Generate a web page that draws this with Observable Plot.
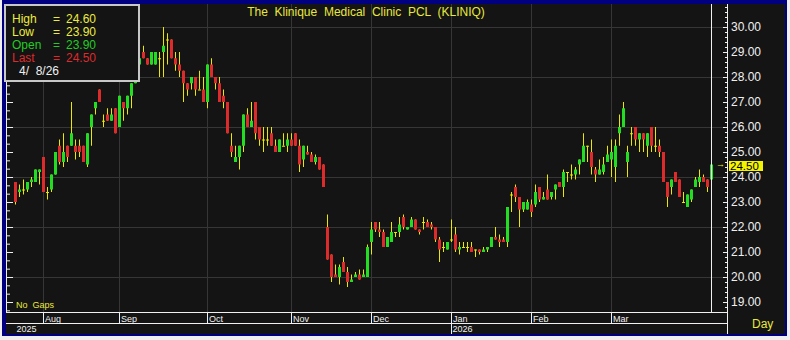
<!DOCTYPE html>
<html><head><meta charset="utf-8">
<script src="https://cdn.jsdelivr.net/npm/d3@7"></script>
<script src="https://cdn.jsdelivr.net/npm/@observablehq/plot@0.6"></script>
<style>
body{margin:0;background:#f0f0f0;}
#wrap{position:relative;width:790px;height:340px;overflow:hidden;background:#f0f0f0;font-family:Arial,"Liberation Sans",sans-serif;}
.abs{position:absolute;white-space:pre;}
</style></head><body>
<div id="wrap">
  <div class="abs" style="left:2px;top:0;width:785px;height:336px;background:#000080"></div>
  <div class="abs" style="left:6px;top:4px;width:779px;height:330px;background:#141414"></div>
  <div id="chart" class="abs" style="left:0;top:0"></div>
  <div class="abs" style="left:6px;top:4px;width:1px;height:308px;background:#f0f0f0"></div>
  <div class="abs" style="left:6px;top:312px;width:721px;height:1px;background:#f0f0f0"></div>
  <div class="abs" style="left:6px;top:323px;width:721px;height:1px;background:#f0f0f0"></div>
  <div class="abs" style="left:727px;top:4px;width:1px;height:330px;background:#f0f0f0"></div>
  <div class="abs" style="left:4px;top:4px;width:132px;height:74px;border:2px solid #c8c8c8;background:#141414"></div>
</div>
<script>
// ---- data (daily OHLC, 175 sessions, last = 4/8/26) ----
const open = [23.8,23.4,23.5,23.5,23.8,23.8,24.2,24.8,23.4,23.5,
 24.1,25.25,24.6,25.25,25.25,25.25,25.25,25.25,24.5,26.0,
 26.75,27.5,26.25,26.5,26.25,26.75,26.0,27.0,26.75,27.25,
 27.75,28.5,29.0,28.75,28.5,28.5,28.75,29.0,29.5,29.5,
 28.75,28.5,28.25,27.75,27.75,28.0,27.5,27.5,27.0,28.5,
 28.0,27.75,27.25,27.0,25.25,24.6,24.8,25.25,26.5,26.0,
 27.0,26.0,25.5,25.5,25.75,25.25,25.0,25.25,25.25,25.5,
 25.75,25.25,24.7,25.0,24.9,24.6,24.8,24.5,22.0,20.9,
 20.1,20.0,20.6,20.2,19.8,20.0,20.1,20.0,20.0,21.4,
 22.2,21.9,21.8,21.2,21.4,21.8,21.8,22.4,21.9,22.0,
 22.3,21.9,22.2,22.2,22.1,22.0,21.5,21.2,21.1,21.5,
 21.7,21.1,21.2,21.2,21.2,21.1,21.1,21.0,21.1,21.2,
 21.6,21.5,21.5,21.4,23.3,23.6,23.2,22.7,22.7,22.9,
 22.9,23.6,23.1,23.5,23.2,23.5,23.8,23.6,24.2,24.1,
 24.1,24.5,24.6,25.25,25.0,24.3,24.1,24.2,24.6,24.7,
 24.4,25.75,26.0,24.6,25.75,26.0,25.5,25.75,25.25,26.0,
 25.25,25.25,25.0,23.8,23.6,24.2,23.9,23.0,22.8,23.1,
 23.6,23.8,24.0,23.9,23.9];
const high = [23.8,23.7,23.9,23.8,24.0,24.3,24.3,24.8,23.6,24.1,
 25.0,25.5,25.75,25.25,27.0,25.5,25.5,25.25,25.75,26.5,
 27.0,27.5,26.5,26.75,26.75,26.75,27.25,27.0,27.25,27.75,
 28.75,29.0,29.25,28.75,29.0,29.0,29.0,30.0,29.75,29.5,
 29.0,29.0,28.25,27.75,28.0,28.0,28.25,28.0,28.5,28.75,
 28.0,28.0,27.5,27.0,25.75,25.25,25.25,26.5,26.75,27.0,
 27.0,26.0,26.0,26.0,26.0,25.5,25.5,25.75,25.75,25.75,
 25.75,25.5,25.25,25.25,25.0,24.9,24.8,24.5,22.5,20.9,
 20.5,20.5,20.8,20.4,20.1,20.2,20.3,20.3,21.3,22.2,
 22.2,22.2,21.9,21.6,22.2,21.8,22.4,22.5,22.0,22.4,
 22.3,21.9,22.4,22.3,22.2,22.0,21.6,21.4,21.4,22.3,
 22.0,21.4,21.4,21.4,21.4,21.1,21.1,21.2,21.2,21.6,
 22.0,21.7,21.6,22.8,23.4,23.7,23.2,23.0,23.1,23.1,
 23.7,23.6,23.4,24.1,23.4,23.7,23.8,24.3,24.2,24.5,
 24.4,24.7,25.75,25.25,25.5,24.4,24.7,24.8,25.25,25.5,
 25.5,26.5,27.0,25.25,26.0,26.0,25.75,25.75,25.75,26.0,
 26.0,25.5,25.0,23.8,23.9,24.2,23.9,23.4,23.3,23.5,
 24.0,24.3,24.1,23.9,24.6];
const low = [22.9,23.2,23.3,23.4,23.6,23.8,23.7,23.4,23.1,23.4,
 24.1,24.5,24.4,24.6,25.25,24.7,24.8,24.6,24.4,25.25,
 26.5,27.0,26.0,26.25,26.25,25.75,26.0,26.25,26.5,26.75,
 27.75,28.25,28.75,28.5,28.5,28.5,28.0,28.0,28.5,28.75,
 28.25,28.0,27.0,27.25,27.5,27.25,27.5,27.0,26.75,28.0,
 27.5,27.0,26.75,25.75,24.8,24.6,24.3,25.0,26.0,26.0,
 25.5,25.25,25.0,25.25,25.25,25.0,25.0,25.25,25.0,25.25,
 25.25,24.2,24.4,24.9,24.6,24.5,24.3,23.6,20.7,19.8,
 20.0,19.7,20.2,19.6,19.8,20.0,19.9,20.0,20.0,20.9,
 21.8,21.6,21.2,21.2,21.4,21.6,21.6,21.9,21.9,22.0,
 21.9,21.7,21.9,22.0,21.9,21.4,20.6,21.0,21.1,21.4,
 21.0,20.9,21.2,21.0,21.0,20.8,20.9,21.0,21.0,21.2,
 21.5,21.2,21.4,21.2,22.6,23.0,22.0,22.6,22.7,22.4,
 22.8,23.0,23.1,23.1,23.1,23.1,23.6,23.2,23.8,23.9,
 23.9,24.1,24.6,24.6,24.1,23.8,24.1,24.1,24.6,24.0,
 23.8,25.25,26.0,24.0,25.25,25.25,25.0,25.0,24.8,25.0,
 25.0,24.8,23.8,22.8,23.3,23.8,23.2,23.0,22.8,23.0,
 23.6,23.6,23.8,23.4,23.9];
const close = [23.0,23.5,23.5,23.8,23.9,24.3,24.3,23.4,23.4,24.1,
 25.0,24.6,25.0,24.8,25.75,25.0,25.0,24.6,25.75,26.5,
 27.0,27.0,26.25,26.25,26.5,25.75,27.25,26.75,27.25,27.75,
 28.5,28.75,28.75,28.5,29.0,29.0,28.75,29.25,29.5,28.75,
 28.5,28.25,27.75,27.5,28.0,27.5,27.5,27.0,28.5,28.0,
 27.75,27.0,27.0,25.75,25.0,24.8,25.25,26.5,26.0,26.25,
 25.75,25.5,25.5,25.5,25.25,25.0,25.5,25.25,25.5,25.25,
 25.25,24.5,25.25,24.9,24.6,24.8,24.3,23.6,20.7,20.0,
 20.0,20.4,20.2,19.8,19.9,20.1,19.9,20.1,21.2,21.9,
 21.9,21.8,21.2,21.6,21.8,21.8,22.1,22.0,22.0,22.3,
 21.9,21.8,22.2,22.0,22.0,21.5,21.1,21.2,21.4,21.5,
 21.1,21.2,21.2,21.2,21.0,21.1,21.0,21.1,21.2,21.6,
 21.5,21.4,21.4,22.8,23.3,23.2,22.7,23.0,23.0,22.6,
 23.4,23.1,23.2,23.1,23.4,23.7,23.6,24.2,24.2,24.1,
 24.3,24.7,25.25,25.25,24.4,24.1,24.3,24.5,24.9,25.0,
 25.25,26.0,26.75,25.0,25.75,25.5,25.75,25.5,25.75,25.25,
 25.25,25.0,23.8,23.2,23.9,23.8,23.2,23.0,23.3,23.5,
 23.9,24.0,23.8,23.6,24.5];
const monthNames = ["Aug","Sep","Oct","Nov","Dec","Jan","Feb","Mar"];
const monthStart = [7,26,48,69,89,109,129,149];   // session index of first bar of each month
const yearNames = ["2025","2026"];
const yearStart = [0,109];
const priceLabels = [19,20,21,22,23,24,25,26,27,28,29,30];
const gridPrices = [20,22,24,26,28,30];
const title = "The  Klinique  Medical  Clinic  PCL  (KLINIQ)";
const legendRows = [["High","24.60","#ecec3c"],["Low","23.90","#ecec3c"],["Open","23.90","#22cc22"],["Last","24.50","#dd2a2a"]];
const lastDate = "4/  8/26";

const WICK = "#e8e800", UP = "#22dd22", DOWN = "#dd2a2a", GRID = "#363636";

const bars = open.map((o, i) => ({i, o, h: high[i], l: low[i], c: close[i]}));
const up = bars.filter(d => d.c > d.o), down = bars.filter(d => d.c < d.o), flat = bars.filter(d => d.c === d.o);
const minorRight = d3.range(93, 155).map(k => k / 5);
const minorLeft = d3.range(56, 93).map(k => k / 3);
const mLabel = new Map(monthStart.map((s, k) => [s, monthNames[k]]));
const yLabel = new Map(yearStart.map((s, k) => [s, yearNames[k]]));
const font = 'Arial, "Liberation Sans", sans-serif';

const chart = Plot.plot({
  width: 790, height: 340,
  marginLeft: 7, marginRight: 63, marginTop: 4, marginBottom: 28,
  style: {background: "transparent", color: "#f0f0f0", fontFamily: font, overflow: "visible"},
  x: {type: "linear", domain: [-2, 178], axis: null},
  y: {domain: [18.6, 30.92], axis: null},
  marks: [
    Plot.ruleY(gridPrices, {stroke: GRID}),
    Plot.ruleX(monthStart, {stroke: GRID}),
    Plot.ruleX(bars, {x: "i", y1: "l", y2: "h", stroke: WICK}),
    Plot.ruleX(up, {x: "i", y1: "o", y2: "c", stroke: UP, strokeWidth: 3}),
    Plot.ruleX(down, {x: "i", y1: "o", y2: "c", stroke: DOWN, strokeWidth: 3}),
    Plot.ruleY(flat, {y: "c", x1: "i", x2: "i", insetLeft: -1, insetRight: -2, stroke: WICK}),
    Plot.ruleX([bars.length - 1], {stroke: "#f0f0f0"}),
    Plot.axisY(minorRight, {anchor: "right", tickSize: -3, tickFormat: () => "", label: null}),
    Plot.axisY(priceLabels, {anchor: "right", tickSize: -5, tickFormat: () => "", label: null}),
    Plot.axisY(priceLabels, {anchor: "right", tickSize: 0, tickPadding: 3.5, tickFormat: d => d.toFixed(2), fontSize: 12, fill: "#f0f0f0", label: null}),
    Plot.axisY(minorLeft, {anchor: "left", tickSize: -3, tickFormat: () => "", label: null}),
    Plot.axisY(priceLabels, {anchor: "left", tickSize: -6, tickFormat: () => "", label: null}),
    Plot.axisX(monthStart, {anchor: "bottom", tickSize: 11, tickFormat: () => "", label: null}),
    Plot.axisX(yearStart.slice(1), {anchor: "bottom", tickSize: 22, tickFormat: () => "", label: null}),
    Plot.axisX(monthStart, {anchor: "bottom", tickSize: 0, tickPadding: 3.5, textAnchor: "start", dx: 1.5, fontSize: 9, tickFormat: d => mLabel.get(d), label: null}),
    Plot.axisX(yearStart, {anchor: "bottom", tickSize: 0, tickPadding: 13.5, textAnchor: "start", dx: 1, fontSize: 9, tickFormat: d => yLabel.get(d), label: null})
  ]
});
document.getElementById("chart").appendChild(chart);

const wrap = document.getElementById("wrap");
function txt(s, left, baseline, size, color, extra) {
  const el = document.createElement("div");
  el.className = "abs";
  el.textContent = s;
  el.style.cssText += `left:${left}px;top:${baseline - 0.8465 * size}px;font-size:${size}px;line-height:${size}px;color:${color};` + (extra || "");
  wrap.appendChild(el);
  return el;
}
// title centred in the price pane
txt(title, 0, 16, 12, "#e8e83c", "width:732px;text-align:center;");
// legend
legendRows.forEach(([name, val, col], k) => {
  const b = 22.7 + 13 * k;
  txt(name, 12, b, 12, col);
  txt("=", 53, b, 12, col);
  txt(val, 66, b, 12, col);
});
txt(lastDate, 19, 75, 12, "#f0f0f0");
txt("No  Gaps", 16, 309, 9, "#e8e83c");
txt("Day", 752, 328, 12, "#e8e83c");
// last price marker, placed with the y scale
const yLast = chart.scale("y").apply(close[close.length - 1]);
const box = document.createElement("div");
box.className = "abs";
box.textContent = close[close.length - 1].toFixed(2);
box.style.cssText += `left:729px;top:${yLast - 4}px;height:10px;width:34px;background:#f4f400;color:#000;font-size:11.5px;line-height:10px;padding-left:1px;box-sizing:border-box;`;
wrap.appendChild(box);
txt("\u2192", 716, yLast + 3.5, 9, "#f0f020");
</script>
</body></html>
